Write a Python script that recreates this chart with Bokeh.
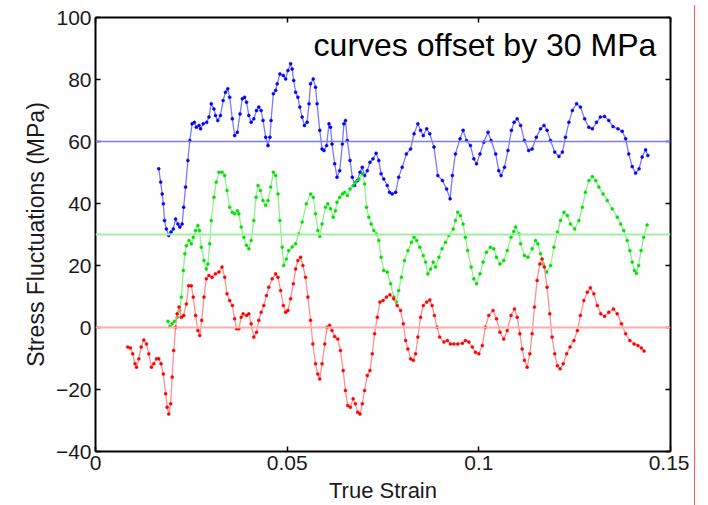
from bokeh.plotting import figure
from bokeh.models import Range1d, LinearAxis, Span, Label, FixedTicker, Div
from bokeh.layouts import row
from bokeh.embed import file_html
from bokeh.resources import INLINE

# ---------------- data ----------------
blue_strain = [0.0165,0.0170,0.0174,0.0177,0.0180,0.0185,0.0191,0.0197,0.0203,0.0209,0.0215,0.0220,0.0226,0.0230,0.0235,
    0.0241,0.0246,0.0252,0.0258,0.0263,0.0270,0.0274,0.0281,0.0290,0.0296,0.0302,0.0309,0.0313,0.0319,0.0326,
    0.0333,0.0339,0.0345,0.0350,0.0357,0.0363,0.0370,0.0377,0.0383,0.0389,0.0394,0.0400,0.0406,0.0413,0.0420,
    0.0426,0.0432,0.0437,0.0444,0.0450,0.0455,0.0458,0.0464,0.0470,0.0474,0.0481,0.0490,0.0496,0.0502,0.0509,
    0.0513,0.0517,0.0522,0.0528,0.0533,0.0539,0.0545,0.0552,0.0557,0.0561,0.0568,0.0574,0.0578,0.0585,0.0591,
    0.0596,0.0603,0.0609,0.0613,0.0617,0.0624,0.0630,0.0637,0.0644,0.0648,0.0652,0.0657,0.0664,0.0670,0.0676,
    0.0683,0.0690,0.0696,0.0702,0.0709,0.0716,0.0724,0.0732,0.0739,0.0745,0.0752,0.0761,0.0767,0.0774,0.0783,
    0.0791,0.0800,0.0811,0.0822,0.0831,0.0841,0.0848,0.0855,0.0864,0.0872,0.0883,0.0893,0.0905,0.0916,0.0925,
    0.0931,0.0939,0.0951,0.0959,0.0968,0.0978,0.0987,0.0994,0.1003,0.1013,0.1024,0.1032,0.1044,0.1052,0.1058,
    0.1067,0.1076,0.1085,0.1092,0.1100,0.1109,0.1119,0.1130,0.1139,0.1150,0.1161,0.1170,0.1178,0.1187,0.1198,
    0.1209,0.1218,0.1226,0.1235,0.1244,0.1255,0.1265,0.1276,0.1287,0.1296,0.1307,0.1317,0.1328,0.1339,0.1350,
    0.1363,0.1374,0.1383,0.1391,0.1400,0.1409,0.1418,0.1426,0.1435,0.1441]
blue_stress = [51.2,46.9,43.1,39.9,34.5,31.8,29.7,30.8,31.8,35.0,33.4,32.4,33.4,38.8,45.3,
    53.9,60.3,65.7,66.2,64.6,65.2,64.1,65.7,66.2,67.9,72.2,70.5,68.4,66.8,68.4,
    73.2,75.9,77.0,74.3,67.3,61.9,63.0,68.9,73.8,74.3,72.7,68.4,66.2,67.3,70.0,
    71.1,70.0,66.8,61.4,58.7,61.4,66.8,75.4,76.5,78.6,81.8,81.3,80.2,82.9,85.1,
    83.4,79.7,75.9,74.3,71.1,67.9,65.2,66.2,72.2,78.6,80.2,77.5,72.2,63.6,57.6,
    57.1,58.7,65.7,64.6,59.2,52.8,48.5,50.6,59.2,65.7,66.8,60.3,53.9,48.5,45.8,
    47.4,50.1,51.7,49.0,50.6,53.3,54.4,56.2,53.9,49.6,47.9,45.8,43.6,43.1,43.6,
    48.5,51.7,56.0,57.6,62.5,65.7,63.6,61.9,64.1,62.5,58.2,49.0,47.4,44.7,41.5,
    49.0,56.0,60.9,63.6,60.3,58.7,54.4,52.8,56.0,59.8,63.0,60.3,56.0,50.6,49.0,
    51.7,57.1,63.6,66.2,67.3,65.2,60.3,57.1,57.6,61.4,64.1,65.2,63.6,60.3,56.6,
    55.2,56.6,61.4,66.2,70.0,72.2,71.1,67.3,64.6,64.1,66.2,67.9,68.1,66.8,64.8,
    64.1,63.3,60.9,56.0,51.9,49.8,51.2,55.0,57.3,55.5]

green_strain = [0.0189,0.0194,0.0200,0.0206,0.0213,0.0220,0.0224,0.0229,0.0233,0.0237,0.0244,0.0250,0.0255,0.0261,0.0267,
    0.0271,0.0276,0.0283,0.0289,0.0293,0.0298,0.0302,0.0309,0.0315,0.0322,0.0330,0.0337,0.0343,0.0350,0.0357,
    0.0363,0.0370,0.0374,0.0380,0.0387,0.0394,0.0400,0.0406,0.0413,0.0419,0.0424,0.0430,0.0437,0.0444,0.0450,
    0.0457,0.0464,0.0470,0.0476,0.0481,0.0487,0.0491,0.0498,0.0504,0.0513,0.0522,0.0530,0.0539,0.0550,0.0561,
    0.0568,0.0574,0.0580,0.0585,0.0591,0.0600,0.0606,0.0613,0.0620,0.0626,0.0630,0.0637,0.0644,0.0650,0.0657,
    0.0664,0.0672,0.0678,0.0687,0.0696,0.0702,0.0707,0.0713,0.0719,0.0726,0.0733,0.0739,0.0745,0.0752,0.0761,
    0.0770,0.0778,0.0785,0.0791,0.0798,0.0806,0.0815,0.0824,0.0831,0.0838,0.0846,0.0855,0.0861,0.0867,0.0874,
    0.0881,0.0887,0.0896,0.0904,0.0913,0.0922,0.0933,0.0939,0.0945,0.0952,0.0959,0.0965,0.0971,0.0980,0.0987,
    0.0994,0.1003,0.1011,0.1020,0.1030,0.1039,0.1046,0.1055,0.1065,0.1074,0.1084,0.1091,0.1096,0.1105,0.1109,
    0.1119,0.1128,0.1139,0.1148,0.1154,0.1161,0.1168,0.1177,0.1187,0.1196,0.1205,0.1213,0.1222,0.1231,0.1239,
    0.1250,0.1261,0.1270,0.1278,0.1287,0.1296,0.1305,0.1313,0.1324,0.1335,0.1348,0.1361,0.1370,0.1378,0.1387,
    0.1394,0.1400,0.1406,0.1411,0.1417,0.1423,0.1430,0.1439]
green_stress = [2.0,0.3,1.2,2.0,3.3,5.5,9.8,18.4,23.8,26.4,28.1,27.0,29.1,31.3,32.9,
    31.3,25.9,21.6,18.9,20.5,27.0,34.5,42.0,46.9,50.1,50.1,49.0,44.2,38.8,37.2,
    36.7,37.7,36.7,32.4,29.1,26.5,25.4,28.1,34.5,42.0,45.8,44.2,41.0,39.4,41.0,
    45.3,50.1,49.0,43.1,34.5,25.9,20.0,22.1,24.8,26.0,27.0,30.2,34.0,39.9,43.1,
    42.0,36.7,31.3,29.4,33.4,38.8,39.9,38.3,35.6,37.7,40.4,42.0,43.1,43.6,42.6,
    44.7,45.8,46.9,47.9,49.6,46.3,38.8,35.6,33.4,31.3,30.2,28.1,22.7,18.4,17.9,
    14.1,9.8,8.2,11.9,16.2,21.6,24.8,27.5,29.1,28.1,25.9,23.2,21.1,17.3,18.9,
    21.1,19.5,22.7,25.4,27.5,29.7,31.8,34.5,37.2,36.1,33.4,29.1,24.8,19.5,15.7,
    14.1,17.3,21.1,24.3,25.9,25.4,22.7,20.5,21.6,24.8,29.1,31.0,32.4,30.2,27.0,
    23.2,22.7,25.4,28.1,27.0,23.8,20.5,17.9,20.0,25.9,30.8,34.5,37.2,36.1,33.4,
    31.8,34.5,38.8,43.6,47.4,48.7,47.4,45.3,43.1,41.0,38.3,35.6,33.4,31.3,28.1,
    24.8,21.1,18.4,17.5,20.0,24.8,29.1,33.1]

red_strain = [0.0084,0.0091,0.0097,0.0103,0.0107,0.0113,0.0119,0.0126,0.0133,0.0139,0.0146,0.0152,0.0159,0.0165,0.0171,
    0.0177,0.0183,0.0187,0.0191,0.0196,0.0200,0.0204,0.0209,0.0213,0.0218,0.0224,0.0230,0.0237,0.0243,0.0250,
    0.0255,0.0261,0.0267,0.0272,0.0277,0.0283,0.0289,0.0296,0.0304,0.0313,0.0322,0.0330,0.0337,0.0343,0.0350,
    0.0357,0.0363,0.0368,0.0374,0.0380,0.0385,0.0394,0.0400,0.0406,0.0413,0.0420,0.0426,0.0432,0.0439,0.0446,
    0.0452,0.0461,0.0470,0.0476,0.0483,0.0490,0.0496,0.0502,0.0509,0.0516,0.0522,0.0528,0.0535,0.0541,0.0548,
    0.0554,0.0561,0.0567,0.0574,0.0580,0.0585,0.0591,0.0598,0.0604,0.0611,0.0617,0.0624,0.0632,0.0639,0.0646,
    0.0652,0.0658,0.0665,0.0672,0.0678,0.0684,0.0690,0.0696,0.0702,0.0709,0.0716,0.0722,0.0728,0.0735,0.0742,
    0.0750,0.0759,0.0768,0.0778,0.0787,0.0796,0.0803,0.0809,0.0815,0.0822,0.0829,0.0835,0.0841,0.0848,0.0855,
    0.0864,0.0872,0.0878,0.0884,0.0891,0.0898,0.0909,0.0918,0.0926,0.0935,0.0945,0.0957,0.0965,0.0974,0.0983,
    0.0991,0.1000,0.1009,0.1017,0.1026,0.1037,0.1046,0.1055,0.1065,0.1074,0.1084,0.1093,0.1100,0.1107,0.1113,
    0.1119,0.1126,0.1133,0.1139,0.1145,0.1152,0.1159,0.1165,0.1171,0.1178,0.1185,0.1191,0.1198,0.1205,0.1212,
    0.1220,0.1229,0.1238,0.1248,0.1257,0.1265,0.1274,0.1283,0.1291,0.1300,0.1309,0.1318,0.1328,0.1339,0.1351,
    0.1361,0.1372,0.1383,0.1394,0.1405,0.1415,0.1424,0.1431]
red_stress = [-6.3,-6.6,-8.5,-11.7,-12.8,-10.1,-6.3,-4.0,-5.3,-8.5,-12.8,-11.7,-10.1,-10.1,-11.7,
    -15.0,-21.4,-25.7,-27.9,-24.6,-16.0,-7.4,0.1,4.4,6.6,3.3,3.9,7.6,13.5,13.5,
    9.8,3.9,-1.0,-2.6,2.3,9.8,15.7,16.8,16.2,17.3,17.9,19.5,16.2,10.9,8.7,
    7.1,2.8,-0.4,-0.4,3.3,4.4,3.9,4.4,1.2,-3.1,-1.5,2.3,4.9,7.1,10.3,
    13.0,15.7,17.3,16.2,11.9,7.1,4.9,5.5,9.3,14.1,18.9,21.6,22.7,20.0,16.2,
    9.8,2.3,-5.3,-11.7,-15.0,-16.6,-11.7,-5.3,0.1,0.7,-1.0,-2.9,-3.7,-7.4,-13.9,
    -20.3,-25.2,-25.7,-23.0,-24.6,-27.3,-27.9,-24.6,-20.3,-15.5,-13.9,-8.5,-2.0,3.3,8.2,
    8.7,9.8,10.6,9.3,7.1,5.5,1.2,-4.2,-6.9,-10.1,-10.6,-8.5,-3.1,3.3,7.1,
    8.2,8.9,7.1,3.9,0.1,-3.1,-4.7,-4.2,-5.3,-5.3,-5.3,-5.1,-4.2,-4.7,-6.3,
    -8.0,-8.5,-5.8,0.1,3.9,5.5,2.8,-1.5,-3.7,-1.0,3.9,6.0,3.3,-2.0,-6.9,
    -10.6,-12.8,-8.5,-2.0,6.6,15.2,20.5,22.1,19.5,13.0,4.4,-3.1,-8.5,-12.3,-13.3,
    -11.7,-8.5,-6.3,-4.2,-1.0,3.9,8.7,11.4,12.8,10.9,7.1,4.4,3.6,4.9,6.0,
    4.4,1.2,-2.0,-4.2,-5.3,-5.8,-6.6,-7.6]

offsets = [60, 30, 0]
x_ticks = [0, 0.05, 0.1, 0.15]
y_ticks = [-40, -20, 0, 20, 40, 60, 80, 100]
x_label = "True Strain"
y_label = "Stress Fluctuations (MPa)"
note = "curves offset by 30 MPa"

FONT = "Liberation Sans"

p = figure(width=689, height=505, x_range=Range1d(0, 0.15), y_range=Range1d(-40, 100),
           output_backend="svg", toolbar_location=None,
           min_border_left=95, min_border_right=19, min_border_top=17, min_border_bottom=54)
p.xgrid.visible = False
p.ygrid.visible = False
p.outline_line_color = None
p.background_fill_color = "white"
p.border_fill_color = "white"

# reference lines
for off, col, w in zip(offsets, ["#7a7aff", "#a0f0a0", "#ffacac"], [1.5, 2, 2]):
    p.add_layout(Span(location=off, dimension="width", line_color=col, line_width=w))

series = [(blue_strain, blue_stress, "#0000ff", "#7a7aff"),
          (green_strain, green_stress, "#00e000", "#90f090"),
          (red_strain, red_stress, "#ff0000", "#ff9090")]
for xs, ys, dot, ln in series:
    p.line(xs, ys, line_color=ln, line_width=1.3)
    p.scatter(xs, ys, size=3.0, fill_color=dot, line_color=dot, line_width=0.5)

def style(ax, ticks, labels=True):
    ax.ticker = FixedTicker(ticks=ticks)
    ax.axis_line_width = 2
    ax.axis_line_color = "black"
    ax.major_tick_in = 5
    ax.major_tick_out = 0
    ax.major_tick_line_width = 1.5
    ax.minor_tick_line_color = None
    ax.major_label_text_font = FONT
    if labels:
        ax.major_label_text_font_size = "21px"
        ax.major_label_text_color = "#1a1a1a"
        ax.major_label_standoff = 4
    else:
        ax.major_label_text_font_size = "1px"
        ax.major_label_text_color = None
        ax.major_label_standoff = 0

p.add_layout(LinearAxis(), "right")
p.add_layout(LinearAxis(), "above")
style(p.left[0], y_ticks)
style(p.below[0], x_ticks)
style(p.right[0], y_ticks, labels=False)
style(p.above[0], x_ticks, labels=False)

p.below[0].major_label_overrides = {0: "0", 0.05: "0.05", 0.1: "0.1", 0.15: "0.15"}
p.below[0].axis_label = x_label
p.left[0].axis_label = y_label
for ax in (p.below[0], p.left[0]):
    ax.axis_label_text_font = FONT
    ax.axis_label_text_font_style = "normal"
    ax.axis_label_text_color = "#1a1a1a"
p.below[0].axis_label_text_font_size = "22px"
p.below[0].axis_label_standoff = 5
p.left[0].axis_label_text_font_size = "23px"
p.left[0].axis_label_standoff = 4

p.add_layout(Label(x=0.0569, y=91.0, text=note, text_font=FONT, text_font_size="32px",
                   text_color="black", text_baseline="alphabetic", text_align="left"))

edge = Div(text="", width=19, height=505, styles={"border-left": "1px solid #ff5a5a", "height": "505px"})
layout = row(p, edge)

open("out.html", "w").write(file_html(layout, INLINE))
